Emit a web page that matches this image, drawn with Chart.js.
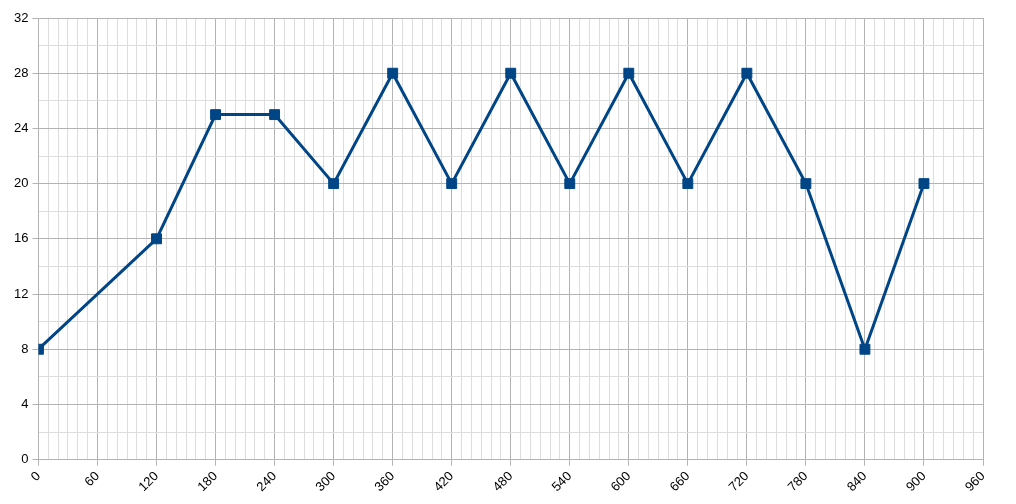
<!DOCTYPE html>
<html>
<head>
<meta charset="utf-8">
<script src="https://cdn.jsdelivr.net/npm/chart.js@4/dist/chart.umd.min.js"></script>
<style>
  body { margin: 0; background: #fff; }
  #wrap { width: 1016px; height: 504px; }
</style>
</head>
<body>
<div id="wrap"><canvas id="lineChart" width="1016" height="504"></canvas></div>
<script>
// data
var xValues = [0, 120, 180, 240, 300, 360, 420, 480, 540, 600, 660, 720, 780, 840, 900];
var yValues = [8, 16, 25, 25, 20, 28, 20, 28, 20, 28, 20, 28, 20, 8, 20];
var xMax = 960;
var yMax = 32;
var xMajor = 60, xMinor = 10;
var yMajor = 4, yMinor = 2;

var lineColor = "#004586";
var majorGrid = "#b3b3b3";
var minorGrid = "#dddddd";

let points = xValues.map((x, i) => ({ x: x, y: yValues[i] }));

function isMajor(v, step) {
  return Math.abs(v / step - Math.round(v / step)) < 1e-6;
}

// explicit tick list so minor grid lines land every step
function stepTicks(max, step) {
  let ticks = [];
  for (let v = 0; v <= max + 1e-9; v += step) {
    ticks.push({ value: v });
  }
  return ticks;
}

new Chart("lineChart", {
  type: "line",
  data: {
    datasets: [
      {
        data: points,
        borderColor: lineColor,
        backgroundColor: lineColor,
        borderWidth: 3,
        pointStyle: "rect",
        pointRadius: 7,
        pointHoverRadius: 7,
        pointBorderWidth: 1,
        tension: 0,
      },
    ],
  },
  options: {
    responsive: false,
    animation: false,
    layout: { padding: { top: 18, right: 33, left: 10, bottom: 6 } },
    plugins: {
      legend: { display: false },
      tooltip: { enabled: false },
    },
    scales: {
      x: {
        type: "linear",
        min: 0,
        max: xMax,
        afterBuildTicks: (axis) => {
          axis.ticks = stepTicks(xMax, xMinor);
        },
        ticks: {
          autoSkip: false,
          minRotation: 45,
          maxRotation: 45,
          color: "#000",
          font: { family: "Liberation Sans", size: 13 },
          callback: (v) => (isMajor(v, xMajor) ? v : ""),
        },
        grid: {
          color: (ctx) => (isMajor(ctx.tick.value, xMajor) ? majorGrid : minorGrid),
          tickColor: (ctx) => (isMajor(ctx.tick.value, xMajor) ? majorGrid : "rgba(0,0,0,0)"),
          tickLength: 6,
          lineWidth: 1,
        },
        border: { color: majorGrid },
      },
      y: {
        min: 0,
        max: yMax,
        afterBuildTicks: (axis) => {
          axis.ticks = stepTicks(yMax, yMinor);
        },
        ticks: {
          autoSkip: false,
          color: "#000",
          padding: 4,
          font: { family: "Liberation Sans", size: 13 },
          callback: (v) => (isMajor(v, yMajor) ? v : ""),
        },
        grid: {
          color: (ctx) => (isMajor(ctx.tick.value, yMajor) ? majorGrid : minorGrid),
          tickColor: (ctx) => (isMajor(ctx.tick.value, yMajor) ? majorGrid : "rgba(0,0,0,0)"),
          tickLength: 6,
          lineWidth: 1,
        },
        border: { color: majorGrid },
      },
    },
  },
});
</script>
</body>
</html>
